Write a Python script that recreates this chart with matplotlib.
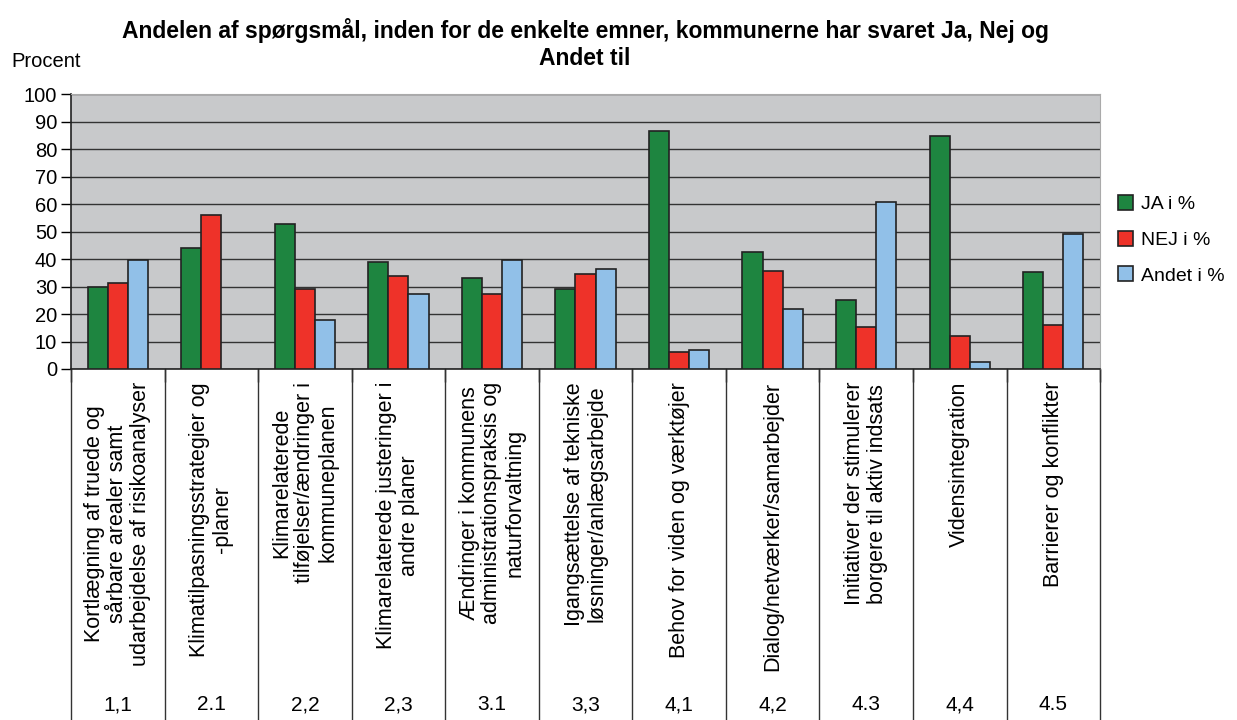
import numpy as np
import matplotlib
matplotlib.use("Agg")
import matplotlib.pyplot as plt

plt.rcParams["font.family"] = ["Liberation Sans", "DejaVu Sans"]

codes = ["1,1", "2.1", "2,2", "2,3", "3.1", "3,3", "4,1", "4,2", "4.3", "4,4", "4.5"]
topics = [
    "Kortlægning af truede og\nsårbare arealer samt\nudarbejdelse af risikoanalyser",
    "Klimatilpasningsstrategier og\n-planer",
    "Klimarelaterede\ntilføjelser/ændringer i\nkommuneplanen",
    "Klimarelaterede justeringer i\nandre planer",
    "Ændringer i kommunens\nadministrationspraksis og\nnaturforvaltning",
    "Igangsættelse af tekniske\nløsninger/anlægsarbejde",
    "Behov for viden og værktøjer",
    "Dialog/netværker/samarbejder",
    "Initiativer der stimulerer\nborgere til aktiv indsats",
    "Vidensintegration",
    "Barrierer og konflikter",
]
ja = [30.0, 43.9, 52.9, 38.8, 33.0, 29.2, 86.7, 42.7, 25.0, 84.8, 35.1]
nej = [31.3, 56.1, 29.2, 33.7, 27.3, 34.5, 6.3, 35.7, 15.3, 12.0, 15.9]
andet = [39.6, np.nan, 17.8, 27.4, 39.6, 36.3, 7.0, 21.7, 60.6, 2.4, 49.2]
series_names = ["JA i %", "NEJ i %", "Andet i %"]
colors = ["#1e8540", "#ee3229", "#91c0e8"]

fig = plt.figure(figsize=(12.37, 7.2), dpi=100)
ax = fig.add_axes([0.0574, 0.4875, 0.8319, 0.3819])
ax.set_facecolor("#c8c9cb")

x = np.arange(len(codes))
w = 0.215
for i, (vals, name, c) in enumerate(zip([ja, nej, andet], series_names, colors)):
    ax.bar(x + (i - 1) * w, vals, w, color=c, edgecolor="#222222", linewidth=1.2,
           label=name, zorder=3)

ax.set_xlim(-0.5, len(codes) - 0.5)
ax.set_ylim(0, 100)
ax.set_yticks(range(0, 101, 10))
ax.tick_params(axis="y", labelsize=14.5, length=7, width=1, pad=3)
ax.set_xticks(np.arange(-0.5, len(codes), 1.0))
ax.set_xticklabels([])
ax.tick_params(axis="x", length=9, width=1)
ax.yaxis.grid(True, color="#333333", linewidth=1, zorder=1)
ax.set_axisbelow(True)
for s in ["top", "right"]:
    ax.spines[s].set_color("#aaaaaa")
for s in ["left", "bottom"]:
    ax.spines[s].set_color("#222222")
    ax.spines[s].set_linewidth(1.2)

# table under the axis
tr = ax.get_xaxis_transform()
ybot = -(720 - 369) / 275.0
for b in np.arange(-0.5, len(codes), 1.0):
    ax.plot([b, b], [0, ybot], transform=tr, color="#333333", lw=1, clip_on=False)
ytext = -(382 - 369) / 275.0
ycode = -(705 - 369) / 275.0
for xi, t, cd in zip(x, topics, codes):
    ax.text(xi, ytext, t, transform=tr, rotation=90, ha="center", va="top",
            multialignment="center", fontsize=15.5, linespacing=1.12)
    ax.text(xi, ycode, cd, transform=tr, ha="center", va="center", fontsize=15)

fig.text(0.473, 0.975, "Andelen af spørgsmål, inden for de enkelte emner, kommunerne har svaret Ja, Nej og\nAndet til",
         ha="center", va="top", fontsize=16.5, fontweight="bold", linespacing=1.2)
fig.text(0.009, 0.915, "Procent", ha="left", va="center", fontsize=14.5)

ax.legend(loc="center left", bbox_to_anchor=(1.0, 0.47), frameon=False, fontsize=14,
          handlelength=0.8, handleheight=0.8, handletextpad=0.4, labelspacing=0.9)

fig.savefig("out.png", dpi=100)
